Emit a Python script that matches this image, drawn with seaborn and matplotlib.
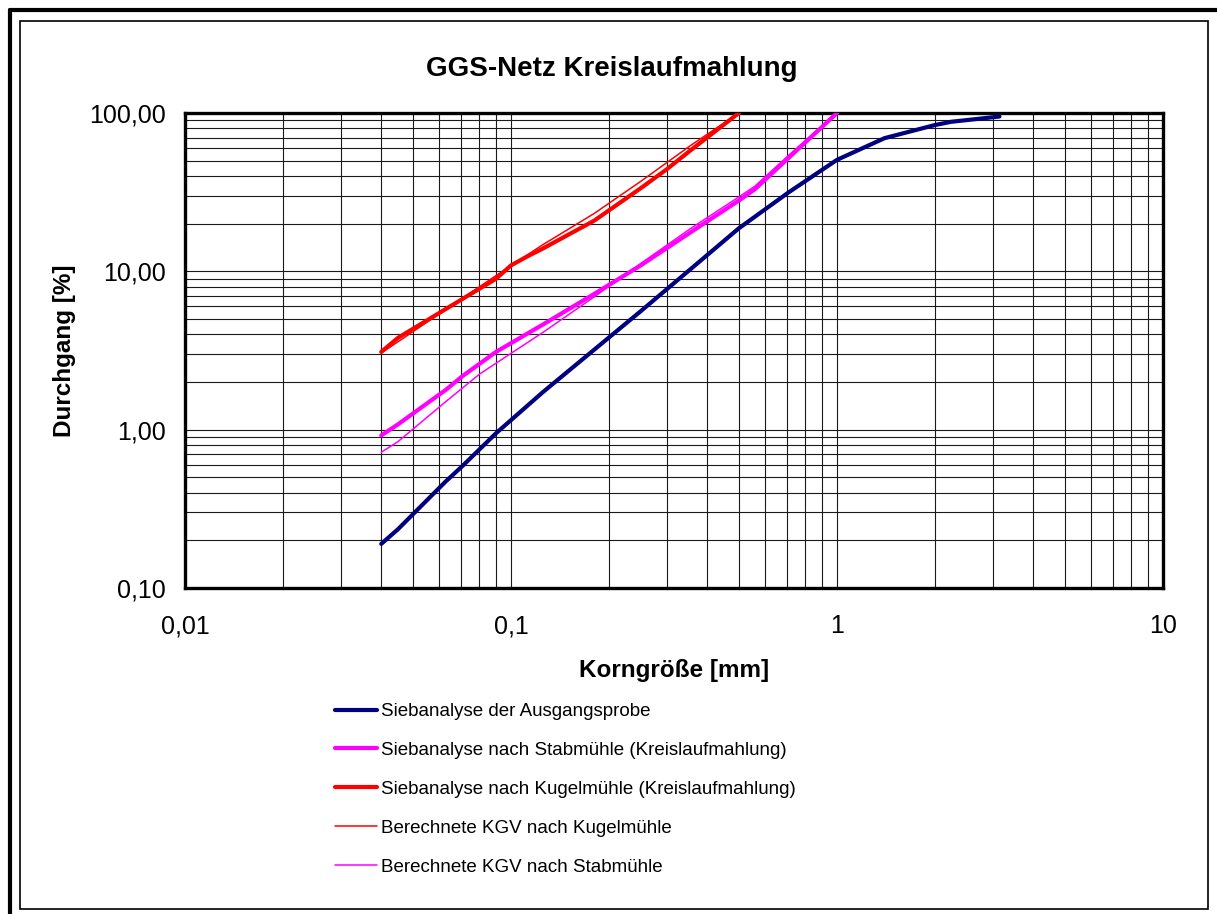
import matplotlib
matplotlib.use("Agg")
import matplotlib.pyplot as plt
from matplotlib.lines import Line2D
from matplotlib.patches import Rectangle
from matplotlib.ticker import FixedLocator, FixedFormatter, LogLocator, NullFormatter
import pandas as pd
import seaborn as sns

# Sieve analysis of the feed sample
feed_size = [0.04, 0.045, 0.063, 0.071, 0.09, 0.125, 0.18, 0.25, 0.355, 0.5, 0.71, 1.0, 1.4, 2.0, 2.24, 3.15]
feed_pass = [0.19, 0.235, 0.47, 0.59, 0.95, 1.72, 3.2, 5.6, 10.3, 18.7, 31.5, 50.6, 69.4, 84.0, 88.0, 95.0]

# Sieve analysis after the rod mill (closed circuit)
rod_size = [0.04, 0.045, 0.063, 0.071, 0.09, 0.125, 0.18, 0.25, 0.355, 0.5, 0.56, 0.71, 1.0]
rod_pass = [0.92, 1.08, 1.78, 2.18, 3.1, 4.6, 7.2, 10.9, 17.6, 28.0, 33.0, 52.0, 100.0]

# Sieve analysis after the ball mill (closed circuit)
ball_size = [0.04, 0.045, 0.063, 0.09, 0.1, 0.112, 0.125, 0.18, 0.25, 0.3, 0.355, 0.5]
ball_pass = [3.1, 3.8, 5.77, 8.98, 10.9, 12.4, 13.9, 20.9, 33.5, 44.0, 58.0, 100.0]

# Calculated size distribution after the ball mill
calc_ball_size = [0.04, 0.045, 0.063, 0.09, 0.125, 0.18, 0.25, 0.355, 0.5]
calc_ball_pass = [3.05, 3.59, 5.73, 9.4, 14.7, 23.2, 37.0, 62.2, 100.0]

# Calculated size distribution after the rod mill
calc_rod_size = [0.04, 0.045, 0.063, 0.08, 0.09, 0.125, 0.18, 0.25, 0.355, 0.5, 0.56, 0.71, 1.0]
calc_rod_pass = [0.72, 0.84, 1.5, 2.24, 2.63, 4.1, 6.9, 11.2, 18.6, 29.5, 34.5, 54.0, 100.0]

series_labels = [
    "Siebanalyse der Ausgangsprobe",
    "Siebanalyse nach Stabmühle (Kreislaufmahlung)",
    "Siebanalyse nach Kugelmühle (Kreislaufmahlung)",
    "Berechnete KGV nach Kugelmühle",
    "Berechnete KGV nach Stabmühle",
]

x_ticks = [0.01, 0.1, 1, 10]
x_tick_labels = ["0,01", "0,1", "1", "10"]
y_ticks = [0.1, 1, 10, 100]
y_tick_labels = ["0,10", "1,00", "10,00", "100,00"]

sns.set_style("white")
plt.rcParams["font.family"] = ["Liberation Sans", "DejaVu Sans"]
plt.rcParams["text.color"] = "black"
plt.rcParams["axes.labelcolor"] = "black"

W, H = 1217, 914
fig = plt.figure(figsize=(W / 100, H / 100), dpi=100)
ax = fig.add_axes([185 / W, 1 - 588 / H, (1163 - 185) / W, (588 - 113) / H])
ax.set_xscale("log")
ax.set_yscale("log")

styles = [
    (feed_size, feed_pass, "#000080", 3.0),
    (rod_size, rod_pass, "#FF00FF", 3.0),
    (ball_size, ball_pass, "#FF0000", 3.0),
    (calc_ball_size, calc_ball_pass, "#FF0000", 1.1),
    (calc_rod_size, calc_rod_pass, "#FF00FF", 1.1),
]
handles = []
for (xs, ys, color, lw), label in zip(styles, series_labels):
    df = pd.DataFrame({"Korngröße": xs, "Durchgang": ys})
    sns.lineplot(data=df, x="Korngröße", y="Durchgang", ax=ax, color=color,
                 linewidth=lw, sort=False, estimator=None,
                 solid_joinstyle="round", solid_capstyle="round", zorder=3)
    handles.append(Line2D([], [], color=color, linewidth=lw))

ax.set_xlim(0.01, 10)
ax.set_ylim(0.1, 100)

ax.xaxis.set_major_locator(FixedLocator(x_ticks))
ax.xaxis.set_major_formatter(FixedFormatter(x_tick_labels))
ax.yaxis.set_major_locator(FixedLocator(y_ticks))
ax.yaxis.set_major_formatter(FixedFormatter(y_tick_labels))
ax.xaxis.set_minor_locator(LogLocator(base=10, subs=range(2, 10)))
ax.yaxis.set_minor_locator(LogLocator(base=10, subs=range(2, 10)))
ax.xaxis.set_minor_formatter(NullFormatter())
ax.yaxis.set_minor_formatter(NullFormatter())

ax.grid(True, which="both", color="#1a1a1a", linewidth=0.8)
ax.set_axisbelow(True)
ax.tick_params(axis="both", which="major", direction="out", length=6, width=1,
               color="black", labelsize=18, labelcolor="black")
ax.tick_params(axis="x", which="major", pad=13)
ax.tick_params(axis="y", which="major", pad=8)
ax.tick_params(axis="both", which="minor", length=0)
for spine in ax.spines.values():
    spine.set_visible(True)
    spine.set_color("black")
    spine.set_linewidth(2.4)

ax.set_xlabel("Korngröße [mm]", fontsize=17.5, fontweight="bold", labelpad=15)
ax.set_ylabel("Durchgang [%]", fontsize=17.5, fontweight="bold", labelpad=9)
fig.text(612 / W, 1 - 69 / H, "GGS-Netz Kreislaufmahlung", fontsize=20,
         fontweight="bold", ha="center", va="center")

ax.legend(handles, series_labels, loc="upper left",
          bbox_to_anchor=(335 / W, 1 - 703 / H), bbox_transform=fig.transFigure,
          frameon=False, fontsize=13.5, handlelength=2.25, handletextpad=0.18,
          labelspacing=1.16, borderpad=0, borderaxespad=0)

# Chart-area frame and outer sheet border
fig.add_artist(Rectangle((20 / W, 1 - 909 / H), 1188 / W, 888 / H,
                         transform=fig.transFigure, fill=False,
                         edgecolor="black", linewidth=1.2))
fig.add_artist(Line2D([10 / W, 1], [1 - 10 / H, 1 - 10 / H],
                      transform=fig.transFigure, color="black", linewidth=3.0))
fig.add_artist(Line2D([10 / W, 10 / W], [0, 1 - 10 / H],
                      transform=fig.transFigure, color="black", linewidth=3.0))

fig.savefig("out.png", dpi=100)
